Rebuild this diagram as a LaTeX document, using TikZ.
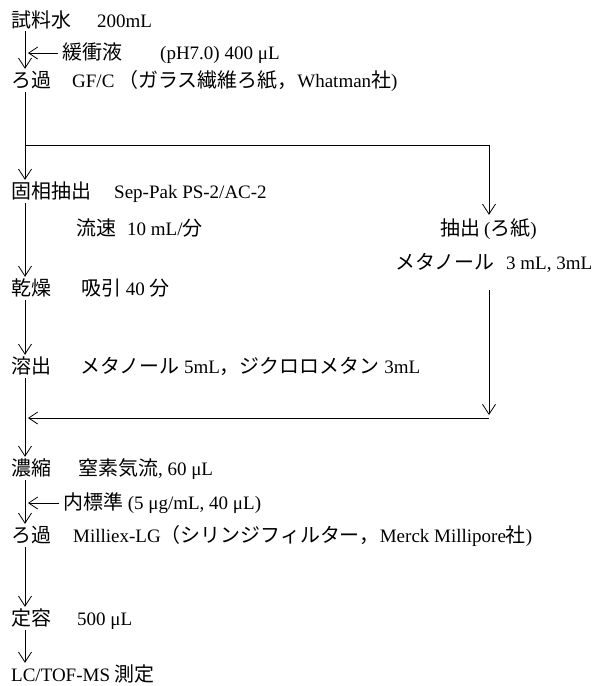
\documentclass[tikz,border=0pt]{standalone}
\usepackage{fontspec}
\setmainfont{Liberation Serif}
\newfontfamily\jpfont[Scale=1.05]{Noto Sans CJK JP}
\newcommand\J[1]{{\jpfont #1}}
\usetikzlibrary{arrows.meta}
\begin{document}
\begin{tikzpicture}[x=1pt,y=-1pt,
  txt/.style={anchor=base west,inner sep=0pt,text height=15pt,text depth=3pt,font=\fontsize{19}{22}\selectfont},
  ln/.style={line width=0.8pt,black},
  arr/.style={ln,-{Straight Barb[length=10pt,width=13pt,line width=0.8pt]}},
  harr/.style={ln,-{Straight Barb[length=9pt,width=12pt,line width=0.8pt]}}]
\useasboundingbox (0,0) rectangle (606,686);
% reference coordinates
\coordinate (spine) at (25,0);
\coordinate (rx) at (489,0);
\coordinate (br) at (25,145);
\coordinate (brR) at (489,145);
\coordinate (jn) at (489,418);
\coordinate (jnL) at (25,418);
% texts
\node[txt] (s)   at (11,27)  {\J{試料水}};
\node[txt] (s2)  at (97,27)  {200mL};
\node[txt] (buf) at (62,59)  {\J{緩衝液}};
\node[txt] (buf2) at (160,59) {(pH7.0) 400 μL};
\node[txt] (f1)  at (11,87)  {\J{ろ過}};
\node[txt] (f1b) at (72,87)  {GF/C};
\node[txt] (f1c) at (118,87) {\J{（ガラス繊維ろ紙，}Whatman\J{社})};
\node[txt] (spe) at (11,198) {\J{固相抽出}};
\node[txt] (spe2) at (114,198) {Sep-Pak PS-2/AC-2};
\node[txt] (fr)  at (76,235) {\J{流速}};
\node[txt] (fr2) at (127,235) {10 mL/\J{分}};
\node[txt] (ext) at (440,235) {\J{抽出}};
\node[txt] (ext2) at (484,235) {(\J{ろ紙})};
\node[txt] (meth) at (395,269) {\J{メタノール}};
\node[txt] (meth2) at (506,269) {3 mL, 3mL};
\node[txt] (dry) at (11,295) {\J{乾燥}};
\node[txt] (dry2) at (81,295) {\J{吸引} 40 \J{分}};
\node[txt] (elu) at (11,373) {\J{溶出}};
\node[txt] (elu2) at (80,373) {\J{メタノール} 5mL\J{，ジクロロメタン} 3mL};
\node[txt] (conc) at (11,475) {\J{濃縮}};
\node[txt] (conc2) at (78,475) {\J{窒素気流}, 60 μL};
\node[txt] (is)  at (63,509) {\J{内標準} (5 μg/mL, 40 μL)};
\node[txt] (f2)  at (11,542) {\J{ろ過}};
\node[txt] (f2b) at (73,542) {Milliex-LG\J{（シリンジフィルター，}Merck Millipore\J{社})};
\node[txt] (vol) at (11,625) {\J{定容}};
\node[txt] (vol2) at (77,625) {500 μL};
\node[txt] (lc)  at (11,681) {LC/TOF-MS \J{測定}};
% connectors
\draw[arr,shorten <=1pt,shorten >=3pt] (s.south -| spine) -- (f1.north -| spine);
\draw[harr,shorten <=4pt,shorten >=3pt] (buf.west) -- (spine |- buf.west);
\draw[ln,shorten <=2pt] (f1.south -| spine) -- (br);
\draw[arr,shorten >=3pt] (br) -- (spe.north -| spine);
\draw[arr,shorten >=5pt] (br) -- (brR) -- (ext.north -| rx);
\draw[arr,shorten <=2pt,shorten >=3pt] (spe.south -| spine) -- (dry.north -| spine);
\draw[arr,shorten <=2pt,shorten >=3pt] (dry.south -| spine) -- (elu.north -| spine);
\draw[arr,shorten <=18pt,shorten >=3pt] (meth.south -| rx) -- (jn);
\draw[harr,shorten >=3pt] (jn) -- (jnL);
\draw[arr,shorten <=2pt,shorten >=3pt] (elu.south -| spine) -- (conc.north -| spine);
\draw[harr,shorten <=4pt,shorten >=3pt] (is.west) -- (spine |- is.west);
\draw[arr,shorten <=2pt,shorten >=3pt] (conc.south -| spine) -- (f2.north -| spine);
\draw[arr,shorten <=2pt,shorten >=3pt] (f2.south -| spine) -- (vol.north -| spine);
\draw[arr,shorten <=2pt,shorten >=3pt] (vol.south -| spine) -- (lc.north -| spine);
\end{tikzpicture}
\end{document}
